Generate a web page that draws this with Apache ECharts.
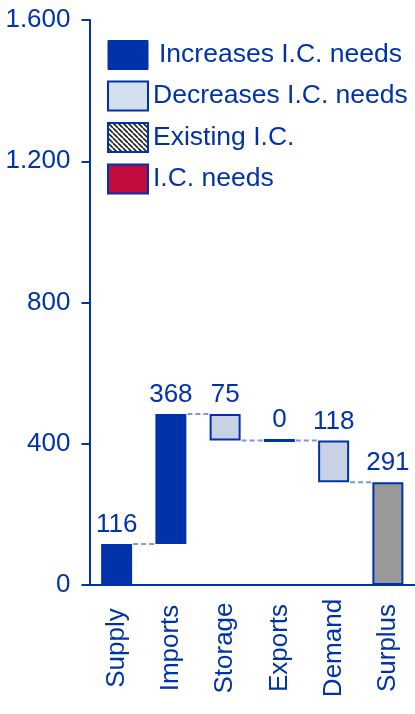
<!DOCTYPE html>
<html>
<head>
<meta charset="utf-8">
<script src="https://cdn.jsdelivr.net/npm/echarts@6/dist/echarts.min.js"></script>
<style>
  html, body { margin: 0; padding: 0; background: #ffffff; }
  #chart { width: 415px; height: 714px; }
</style>
</head>
<body>
<div id="chart"></div>
<script>
// Interconnection capacity balance (waterfall)
const categories = ['Supply', 'Imports', 'Storage', 'Exports', 'Demand', 'Surplus'];
const increases  = [116, 368, '-', 0, '-', '-'];
const decreases  = ['-', '-', 75, '-', 118, '-'];
const totals     = ['-', '-', '-', '-', '-', 291];
const yTicks     = [0, 400, 800, 1200, 1600];

const BLUE = '#0033aa';
const LIGHT = '#c8d2e4';
const CRIMSON = '#c20c3c';
const GREY = '#999999';
const FONT = '"Liberation Sans", Arial, sans-serif';
const BAR_W = 31;

// invisible base of each floating bar + level each step ends at
const base = [];
const levels = [];
let running = 0;
categories.forEach((c, i) => {
  if (increases[i] !== '-') {
    base.push(running);
    running += increases[i];
  } else if (decreases[i] !== '-') {
    running -= decreases[i];
    base.push(running);
  } else {
    base.push(0);
  }
  levels.push(running);
});

// diagonal hatch for "Existing I.C."
function hatch() {
  const s = 5;
  const c = document.createElement('canvas');
  c.width = s; c.height = s;
  const g = c.getContext('2d');
  g.fillStyle = '#ffffff';
  g.fillRect(0, 0, s, s);
  g.strokeStyle = '#222222';
  g.lineWidth = 1.6;
  for (const o of [-s, 0, s]) {
    g.beginPath();
    g.moveTo(o, 0);
    g.lineTo(o + s, s);
    g.stroke();
  }
  return c;
}

const labelStyle = {
  show: true, position: 'top', distance: 6,
  color: BLUE, fontSize: 26, fontFamily: FONT
};

// a zero step is drawn as a thicker flat line
const increaseItems = increases.map(v => (v === 0 ? { value: v, itemStyle: { borderWidth: 3 } } : v));

const chart = echarts.init(document.getElementById('chart'), null, { renderer: 'canvas' });
chart.setOption({
  animation: false,
  backgroundColor: '#ffffff',
  textStyle: { fontFamily: FONT },
  grid: { left: 89.5, top: 20, width: 327, bottom: 129, containLabel: false },
  legend: {
    orient: 'vertical',
    left: 102, top: 35,
    icon: 'rect',
    itemWidth: 40, itemHeight: 29, itemGap: 10.5,
    textStyle: { color: BLUE, fontSize: 26.5, fontFamily: FONT },
    selectedMode: false,
    data: [
      {
        name: 'Increases I.C. needs',
        itemStyle: { color: BLUE, borderColor: BLUE, borderWidth: 1 },
        textStyle: { padding: [0, 0, 0, 6] }
      },
      { name: 'Decreases I.C. needs', itemStyle: { color: '#d5e0ef', borderColor: BLUE, borderWidth: 2 } },
      { name: 'Existing I.C.' },
      { name: 'I.C. needs' }
    ]
  },
  xAxis: {
    type: 'category',
    data: categories,
    axisLine: { lineStyle: { color: BLUE, width: 2 } },
    axisTick: { show: false },
    axisLabel: {
      rotate: 90, color: BLUE, fontSize: 26, fontFamily: FONT,
      align: 'center', verticalAlign: 'middle', margin: 63
    }
  },
  yAxis: {
    type: 'value',
    min: 0, max: yTicks[yTicks.length - 1], interval: yTicks[1] - yTicks[0],
    splitLine: { show: false },
    axisLine: { show: true, lineStyle: { color: BLUE, width: 2 } },
    axisTick: { show: true, length: 8, lineStyle: { color: BLUE, width: 2 } },
    axisLabel: {
      color: BLUE, fontSize: 26, fontFamily: FONT, margin: 19,
      formatter: v => String(v).replace(/\B(?=(\d{3})+(?!\d))/g, '.')
    }
  },
  series: [
    {
      name: 'base', type: 'bar', stack: 'w', barWidth: BAR_W, silent: true,
      itemStyle: { color: 'rgba(0,0,0,0)' },
      data: base
    },
    {
      name: 'Increases I.C. needs', type: 'bar', stack: 'w', barWidth: BAR_W,
      itemStyle: { color: BLUE, borderColor: BLUE, borderWidth: 2 },
      label: labelStyle,
      data: increaseItems
    },
    {
      name: 'Decreases I.C. needs', type: 'bar', stack: 'w', barWidth: BAR_W,
      itemStyle: { color: LIGHT, borderColor: BLUE, borderWidth: 2 },
      label: labelStyle,
      data: decreases
    },
    {
      name: 'Surplus', type: 'bar', stack: 'w', barWidth: BAR_W,
      itemStyle: { color: GREY, borderColor: BLUE, borderWidth: 2 },
      label: labelStyle,
      data: totals
    },
    {
      name: 'Existing I.C.', type: 'bar', stack: 'w', barWidth: BAR_W,
      itemStyle: { color: { image: hatch(), repeat: 'repeat' }, borderColor: BLUE, borderWidth: 2 },
      data: []
    },
    {
      name: 'I.C. needs', type: 'bar', stack: 'w', barWidth: BAR_W,
      itemStyle: { color: CRIMSON, borderColor: BLUE, borderWidth: 2 },
      data: []
    },
    {
      // dashed connectors between consecutive steps
      name: 'connectors', type: 'custom', silent: true, z: 1,
      data: levels.slice(0, levels.length - 1).map((v, i) => [i, v]),
      encode: { x: 0, y: 1 },
      renderItem: (params, api) => {
        const i = api.value(0);
        const v = api.value(1);
        const a = api.coord([i, v]);
        const b = api.coord([i + 1, v]);
        return {
          type: 'line',
          shape: { x1: a[0] + BAR_W / 2 + 1, y1: a[1], x2: b[0] - BAR_W / 2 - 1, y2: b[1] },
          style: { stroke: '#7f98d2', lineWidth: 2, lineDash: [5, 3] }
        };
      }
    }
  ]
});
</script>
</body>
</html>
